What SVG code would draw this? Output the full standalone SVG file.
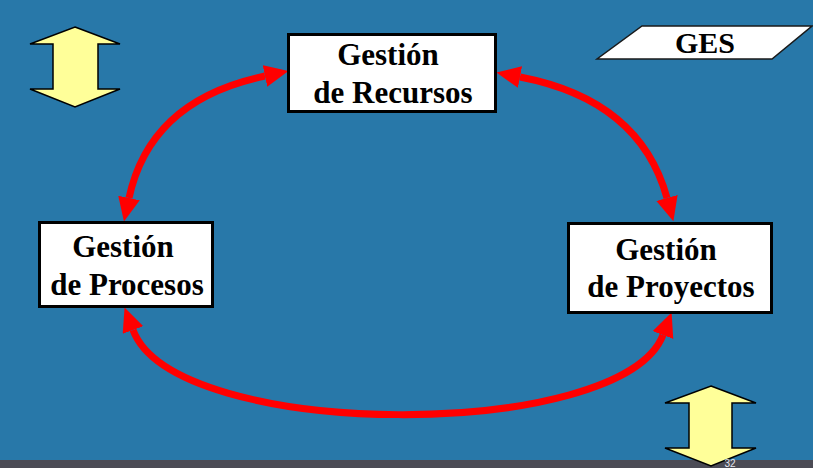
<svg xmlns="http://www.w3.org/2000/svg" width="813" height="468" viewBox="0 0 813 468">
<style>
.box{fill:#ffffff;stroke:#000000;stroke-width:3}
.lbl{font-family:"Liberation Serif","Times New Roman",serif;font-weight:bold;font-size:31px;fill:#000000;text-anchor:middle}
.conn{fill:none;stroke:#ff0000;stroke-width:7}
.yarrow{fill:#ffff99;stroke:#000000;stroke-width:1.5;stroke-linejoin:miter}
</style>
<defs>
<marker id="ah" markerUnits="userSpaceOnUse" markerWidth="26" markerHeight="24" refX="0" refY="11" orient="auto-start-reverse" viewBox="0 0 26 24">
<path d="M0,0 L24,11 L0,22 Z" fill="#ff0000"/>
</marker>
</defs>
<rect x="0" y="0" width="813" height="468" fill="#2878a9"/>
<rect x="0" y="460" width="813" height="8" fill="#4b4b55"/>

<g id="arrow-top-left">
<path class="yarrow" d="M75,27 L120,44 L98,44 L98,89 L120,89 L75,107 L30,89 L53,89 L53,44 L30,44 Z"/>
</g>
<g id="arrow-bottom-right">
<path class="yarrow" d="M711,386 L756,403 L732,403 L732,448 L756,448 L711,466 L665,448 L689,448 L689,403 L665,403 Z"/>
</g>
<text x="730" y="467" font-family="Liberation Sans, Arial, sans-serif" font-size="10" fill="#e6e6ee" text-anchor="middle">32</text>

<g id="ges">
<path d="M642,26 L812,26 L772,59 L597,59 Z" fill="#ffffff" stroke="#1a1a1a" stroke-width="1.5"/>
<text class="lbl" x="705" y="53" style="font-size:30px">GES</text>
</g>

<g id="connectors">
<path class="conn" d="M265,76 Q150,100 129,198" marker-start="url(#ah)" marker-end="url(#ah)"/>
<path class="conn" d="M520,77 Q640,100 667,198" marker-start="url(#ah)" marker-end="url(#ah)"/>
<path class="conn" d="M133,330 C175,442 622,442 663,335" marker-start="url(#ah)" marker-end="url(#ah)"/>
</g>

<g id="gestion-recursos">
<rect class="box" x="288.5" y="34.5" width="207" height="77"/>
<text class="lbl" x="388" y="65">Gestión</text>
<text class="lbl" x="393" y="103">de Recursos</text>
</g>
<g id="gestion-procesos">
<rect class="box" x="39.5" y="222.5" width="173" height="84"/>
<text class="lbl" x="123" y="257">Gestión</text>
<text class="lbl" x="127" y="295">de Procesos</text>
</g>
<g id="gestion-proyectos">
<rect class="box" x="568.5" y="223.5" width="203" height="89"/>
<text class="lbl" x="666" y="260">Gestión</text>
<text class="lbl" x="671" y="297">de Proyectos</text>
</g>
</svg>
